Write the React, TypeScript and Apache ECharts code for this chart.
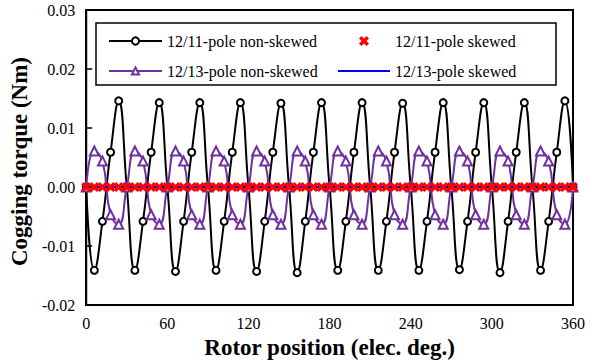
import React, { useEffect, useRef } from "react";
import * as echarts from "echarts";

const positions: number[] = [
  0, 6, 12, 18, 24, 30, 36, 42, 48, 54, 60, 66, 72, 78, 84, 90, 96, 102, 108, 114, 120,
  126, 132, 138, 144, 150, 156, 162, 168, 174, 180, 186, 192, 198, 204, 210, 216, 222, 228, 234, 240,
  246, 252, 258, 264, 270, 276, 282, 288, 294, 300, 306, 312, 318, 324, 330, 336, 342, 348, 354, 360,
];

const nonSkewed11: number[] = [
  0, -0.0141, -0.0058, 0.0059, 0.0146,
  0, -0.0141, -0.0058, 0.0059, 0.0143,
  0, -0.0143, -0.0058, 0.0059, 0.0143,
  0, -0.0141, -0.0058, 0.0059, 0.0143,
  0, -0.0143, -0.0058, 0.0059, 0.0142,
  0, -0.0145, -0.0058, 0.0059, 0.0143,
  0, -0.0141, -0.0058, 0.0059, 0.0143,
  0, -0.0141, -0.0058, 0.0059, 0.0142,
  0, -0.0141, -0.0058, 0.0059, 0.0143,
  0, -0.014, -0.0058, 0.0059, 0.0143,
  0, -0.0145, -0.0058, 0.0059, 0.0143,
  0, -0.0141, -0.0058, 0.0059, 0.0146,
  0,
];

const nonSkewed13: number[] = [
  0, 0.0061, 0.0044, -0.0047, -0.0063,
  0, 0.0061, 0.0044, -0.0047, -0.0063,
  0, 0.0061, 0.0044, -0.0047, -0.0063,
  0, 0.0061, 0.0044, -0.0047, -0.0063,
  0, 0.0061, 0.0044, -0.0047, -0.0063,
  0, 0.0061, 0.0044, -0.0047, -0.0063,
  0, 0.0061, 0.0044, -0.0047, -0.0063,
  0, 0.0061, 0.0044, -0.0047, -0.0063,
  0, 0.0061, 0.0044, -0.0047, -0.0063,
  0, 0.0061, 0.0044, -0.0047, -0.0063,
  0, 0.0061, 0.0044, -0.0047, -0.0063,
  0, 0.0061, 0.0044, -0.0047, -0.0063,
  0,
];

const skewed11: number[] = [
  0, 0, 0, 0, 0, 0, 0, 0, 0, 0, 0, 0, 0, 0, 0, 0, 0, 0, 0, 0, 0,
  0, 0, 0, 0, 0, 0, 0, 0, 0, 0, 0, 0, 0, 0, 0, 0, 0, 0, 0, 0,
  0, 0, 0, 0, 0, 0, 0, 0, 0, 0, 0, 0, 0, 0, 0, 0, 0, 0, 0, 0,
];

const skewed13: number[] = [
  0, 0, 0, 0, 0, 0, 0, 0, 0, 0, 0, 0, 0, 0, 0, 0, 0, 0, 0, 0, 0,
  0, 0, 0, 0, 0, 0, 0, 0, 0, 0, 0, 0, 0, 0, 0, 0, 0, 0, 0, 0,
  0, 0, 0, 0, 0, 0, 0, 0, 0, 0, 0, 0, 0, 0, 0, 0, 0, 0, 0, 0,
];

const seriesNames: string[] = [
  "12/11-pole non-skewed",
  "12/11-pole skewed",
  "12/13-pole non-skewed",
  "12/13-pole skewed",
];

const FONT = "Liberation Serif";
const X_SYMBOL =
  "path://M0,2.4 L2.4,0 L5,2.6 L7.6,0 L10,2.4 L7.4,5 L10,7.6 L7.6,10 L5,7.4 L2.4,10 L0,7.6 L2.6,5 Z";
const LINE_ICON = "path://M0,0 L26,0 L26,1 L0,1 Z";

const pair = (ys: number[]) => positions.map((x, i) => [x, ys[i]]);

export default function App() {
  const ref = useRef<HTMLDivElement>(null);
  useEffect(() => {
    if (!ref.current) return;
    const chart = echarts.init(ref.current, undefined, { renderer: "svg" });
    chart.setOption({
      animation: false,
      backgroundColor: "#fff",
      textStyle: { fontFamily: FONT },
      grid: {
        left: 83,
        right: 22,
        top: 10,
        bottom: 51,
        show: true,
        borderColor: "#000",
        borderWidth: 2,
        backgroundColor: "transparent",
      },
      xAxis: {
        type: "value",
        min: 0,
        max: 360,
        interval: 60,
        name: "Rotor position (elec. deg.)",
        nameLocation: "middle",
        nameGap: 28,
        nameTextStyle: { fontFamily: FONT, fontSize: 23, fontWeight: "bold", color: "#000" },
        axisLine: { show: true, lineStyle: { color: "#000", width: 2 } },
        axisTick: { show: true, inside: true, length: 6, lineStyle: { color: "#000", width: 1.5 } },
        axisLabel: { fontFamily: FONT, fontSize: 16, color: "#000", margin: 10 },
        splitLine: { show: false },
      },
      yAxis: {
        type: "value",
        min: -0.02,
        max: 0.03,
        interval: 0.01,
        name: "Cogging torque (Nm)",
        nameLocation: "middle",
        nameGap: 52,
        nameTextStyle: {
          fontFamily: FONT,
          fontSize: 23,
          fontWeight: "bold",
          color: "#000",
          padding: [0, 8, 0, 0],
        },
        axisLine: { show: true, lineStyle: { color: "#000", width: 2 } },
        axisTick: { show: true, inside: true, length: 6, lineStyle: { color: "#000", width: 1.5 } },
        axisLabel: {
          fontFamily: FONT,
          fontSize: 16,
          color: "#000",
          margin: 11,
          formatter: (v: number) => v.toFixed(2),
        },
        splitLine: { show: false },
      },
      legend: [
        {
          orient: "vertical",
          left: 108,
          top: 33,
          padding: 0,
          itemGap: 14,
          itemWidth: 53,
          itemHeight: 9,
          data: [seriesNames[0], seriesNames[2]],
          textStyle: { fontFamily: FONT, fontSize: 16, color: "#000" },
        },
        {
          orient: "vertical",
          left: 338,
          top: 33,
          padding: 0,
          itemGap: 14,
          itemWidth: 52,
          itemHeight: 10,
          data: [seriesNames[1], { name: seriesNames[3], icon: LINE_ICON }],
          textStyle: { fontFamily: FONT, fontSize: 16, color: "#000" },
        },
      ],
      graphic: [
        {
          type: "rect",
          shape: { x: 96, y: 23, width: 460, height: 62 },
          style: { fill: "transparent", stroke: "#000", lineWidth: 1.5 },
          z: 10,
        },
      ],
      series: [
        {
          name: seriesNames[0],
          type: "line",
          data: pair(nonSkewed11),
          smooth: true,
          symbol: "emptyCircle",
          symbolSize: 7,
          showAllSymbol: true,
          color: "#000",
          lineStyle: { color: "#000", width: 2 },
          itemStyle: { color: "#000", borderWidth: 1.6 },
        },
        {
          name: seriesNames[2],
          type: "line",
          data: pair(nonSkewed13),
          smooth: true,
          symbol: "emptyTriangle",
          symbolSize: 9,
          showAllSymbol: true,
          color: "#7030A0",
          lineStyle: { color: "#7030A0", width: 2 },
          itemStyle: { color: "#7030A0", borderWidth: 1.6 },
        },
        {
          name: seriesNames[3],
          type: "line",
          data: pair(skewed13),
          symbol: "none",
          color: "#0000FF",
          lineStyle: { color: "#0000FF", width: 2 },
          z: 3,
        },
        {
          name: seriesNames[1],
          type: "scatter",
          data: pair(skewed11),
          symbol: X_SYMBOL,
          symbolSize: [10, 10],
          color: "#FF0000",
          itemStyle: { color: "#FF0000", opacity: 1 },
          z: 4,
        },
      ],
    });
    return () => chart.dispose();
  }, []);
  return (
    <div
      ref={ref}
      style={{ position: "fixed", left: 0, top: 0, width: 595, height: 364, background: "#fff" }}
    />
  );
}
